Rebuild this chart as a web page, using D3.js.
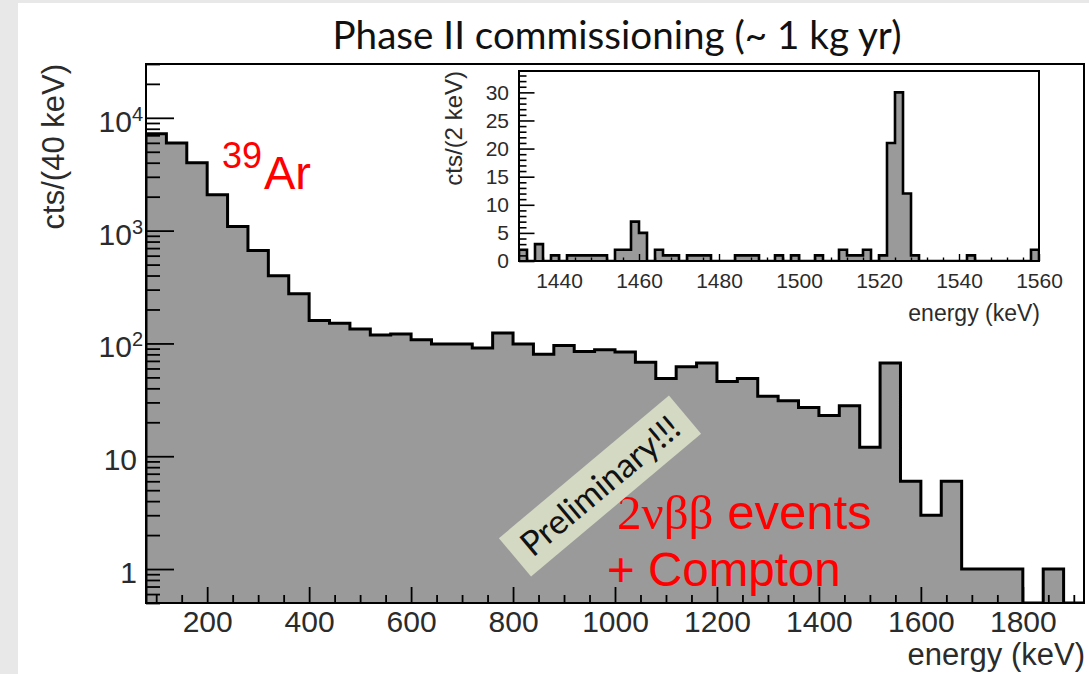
<!DOCTYPE html>
<html><head><meta charset="utf-8">
<script src="https://cdn.jsdelivr.net/npm/d3@7"></script>
<style>
html,body{margin:0;padding:0;background:#fff;}
svg{display:block;}
</style></head><body>
<svg id="c" width="1089" height="674"></svg>
<script>
// ---------- DATA ----------
const mainBinLow = [80,120,160,200,240,280,320,360,400,440,480,520,560,600,640,680,720,760,800,840,880,920,960,1000,1040,1080,1120,1160,1200,1240,1280,1320,1360,1400,1440,1480,1520,1560,1600,1640,1680,1720,1760,1800,1840,1880];
const mainCounts = [7240,5975,4000,2083,1089,665,399,275,160,151,134,119,121,108,99,99,91,124,99,80,96,85,88,84,68,49,62,67,46,49,34,31,27,23,28,12,67,6,3,6,1,1,1,0,1,0];
const mainBinWidth = 40;
const mainXTicks = [200,400,600,800,1000,1200,1400,1600,1800];
const mainYTicks = [1,10,100,1000,10000];
const mainYLabels = [["1",""],["10",""],["10","2"],["10","3"],["10","4"]];

const insetBinLow = [1430,1432,1434,1436,1438,1440,1442,1444,1446,1448,1450,1452,1454,1456,1458,1460,1462,1464,1466,1468,1470,1472,1474,1476,1478,1480,1482,1484,1486,1488,1490,1492,1494,1496,1498,1500,1502,1504,1506,1508,1510,1512,1514,1516,1518,1520,1522,1524,1526,1528,1530,1532,1534,1536,1538,1540,1542,1544,1546,1548,1550,1552,1554,1556,1558];
const insetCounts = [2,0,3,0,1,0,1,1,1,1,1,0,2,2,7,5,0,2,1,1,0,1,1,1,0,0,0,1,1,1,0,0,1,0,1,0,0,1,0,0,2,1,1,2,0,1,21,30,12,1,0,0,0,0,0,0,1,0,0,0,0,0,0,0,2];
const insetBinWidth = 2;
const insetXTicks = [1440,1460,1480,1500,1520,1540,1560];
const insetYTicks = [0,5,10,15,20,25,30];

// ---------- DRAW ----------
const svg = d3.select("#c");
svg.append("rect").attr("width",1089).attr("height",674).attr("fill","#fff");
svg.append("rect").attr("x",0).attr("y",0).attr("width",18).attr("height",674).attr("fill","#e8e8e8");
svg.append("rect").attr("x",0).attr("y",0).attr("width",1089).attr("height",3).attr("fill","#e8e8e8");

const AX_FONT = "'Liberation Sans', Arial, Helvetica, sans-serif";
const M = {l:146, r:1084, t:64, b:603};
const x = d3.scaleLinear().domain([80,1920]).range([M.l,M.r]);
const y = d3.scaleLog().domain([0.5,30000]).range([M.b,M.t]);

function histPoints(lows, counts, w, xs, ys, base){
  const pts = [[xs(lows[0]), base]];
  lows.forEach((lo,i)=>{
    const yy = counts[i] > 0 ? ys(counts[i]) : base;
    pts.push([xs(lo), yy], [xs(lo + w), yy]);
  });
  pts.push([xs(lows[lows.length-1] + w), base]);
  return pts;
}
const line = d3.line();

svg.append("clipPath").attr("id","mclip").append("rect")
  .attr("x",M.l).attr("y",M.t).attr("width",M.r-M.l).attr("height",M.b-M.t);
const mpts = histPoints(mainBinLow, mainCounts, mainBinWidth, x, y, M.b);
const gh = svg.append("g").attr("clip-path","url(#mclip)");
gh.append("path").attr("d", line(mpts) + "Z").attr("fill","#9a9a9a").attr("stroke","none");
gh.append("path").attr("d", line(mpts)).attr("fill","none").attr("stroke","#000")
  .attr("stroke-width",3).attr("stroke-linejoin","miter");

// x axis main
function styleAxis(g, w){
  g.select(".domain").remove();
  g.selectAll(".tick line").attr("stroke","#000").attr("stroke-width",w);
}
const gxm = svg.append("g").attr("transform",`translate(0,${M.b})`)
  .call(d3.axisBottom(x).tickValues(d3.range(100,1901,50).filter(v=>v%200!==0)).tickSize(-8).tickFormat(""));
styleAxis(gxm,1.8);
const gx = svg.append("g").attr("transform",`translate(0,${M.b})`)
  .call(d3.axisBottom(x).tickValues(mainXTicks).tickSize(-16).tickPadding(8).tickFormat(d3.format("d")));
styleAxis(gx,1.8);
gx.selectAll(".tick text").attr("font-family",AX_FONT).attr("font-size",30).attr("fill","#2b2b2b");

// y axis main
const yMinor = [];
[0.1,1,10,100,1000,10000].forEach(dec=>{ for(let k=2;k<=9;k++){ const v=dec*k; if(v>=0.5 && v<=30000) yMinor.push(v);} });
const gym = svg.append("g").attr("transform",`translate(${M.l},0)`)
  .call(d3.axisLeft(y).tickValues(yMinor).tickSize(-14).tickFormat(""));
styleAxis(gym,1.8);
const gy = svg.append("g").attr("transform",`translate(${M.l},0)`)
  .call(d3.axisLeft(y).tickValues(mainYTicks).tickSize(-28).tickFormat(""));
styleAxis(gy,1.8);
const yl = svg.append("g");
mainYTicks.forEach((v,i)=>{
  const lab = mainYLabels[i];
  const t = yl.append("text").attr("text-anchor","end")
    .attr("x", lab[1] ? 143 : 137).attr("y", y(v)+14)
    .attr("font-family",AX_FONT).attr("font-size",30).attr("fill","#2b2b2b");
  t.append("tspan").text(lab[0]);
  if(lab[1]) t.append("tspan").attr("font-size",20).attr("dy",-11).text(lab[1]);
});

// frame
svg.append("rect").attr("x",M.l).attr("y",M.t).attr("width",M.r-M.l).attr("height",M.b-M.t)
  .attr("fill","none").attr("stroke","#000").attr("stroke-width",2);

// axis titles
svg.append("text").attr("x",1085).attr("y",665).attr("text-anchor","end")
  .attr("font-family",AX_FONT).attr("font-size",31).attr("fill","#2b2b2b").text("energy (keV)");
svg.append("text").attr("transform",`translate(64,64) rotate(-90)`).attr("text-anchor","end")
  .attr("font-family",AX_FONT).attr("font-size",31).attr("fill","#2b2b2b").text("cts/(40 keV)");

// title
const title = svg.append("text").attr("x",617).attr("y",49).attr("text-anchor","middle")
  .attr("font-family","Lato, 'Open Sans', sans-serif").attr("font-size",30).attr("fill","#111")
  .text("Phase II commissioning (~ 1 kg yr)");
const tw = title.node().getComputedTextLength();
title.attr("font-size", 30*569/tw);

// ---------- INSET ----------
const I = {l:519, r:1039, t:71, b:261};
const xi = d3.scaleLinear().domain([1430,1560]).range([I.l,I.r]);
const yi = d3.scaleLinear().domain([0,33.8]).range([I.b,I.t]);
svg.append("rect").attr("x",I.l).attr("y",I.t).attr("width",I.r-I.l).attr("height",I.b-I.t).attr("fill","#fff");
svg.append("clipPath").attr("id","iclip").append("rect")
  .attr("x",I.l).attr("y",I.t).attr("width",I.r-I.l).attr("height",I.b-I.t);
const ipts = histPoints(insetBinLow, insetCounts, insetBinWidth, xi, yi, I.b);
const gi = svg.append("g").attr("clip-path","url(#iclip)");
gi.append("path").attr("d", line(ipts)+"Z").attr("fill","#9a9a9a");
gi.append("path").attr("d", line(ipts)).attr("fill","none").attr("stroke","#000").attr("stroke-width",2.6);

const gixm = svg.append("g").attr("transform",`translate(0,${I.b})`)
  .call(d3.axisBottom(xi).tickValues(d3.range(1432,1560,4).filter(v=>(v-1440)%20!==0)).tickSize(-3.5).tickFormat(""));
styleAxis(gixm,1.4);
const gix = svg.append("g").attr("transform",`translate(0,${I.b})`)
  .call(d3.axisBottom(xi).tickValues(insetXTicks).tickSize(-7).tickPadding(12).tickFormat(d3.format("d")));
styleAxis(gix,1.4);
gix.selectAll(".tick text").attr("font-family",AX_FONT).attr("font-size",21).attr("fill","#2b2b2b");

const giym = svg.append("g").attr("transform",`translate(${I.l},0)`)
  .call(d3.axisLeft(yi).tickValues(d3.range(1,34).filter(v=>v%5!==0)).tickSize(-7.5).tickFormat(""));
styleAxis(giym,1.6);
const giy = svg.append("g").attr("transform",`translate(${I.l},0)`)
  .call(d3.axisLeft(yi).tickValues(insetYTicks).tickSize(-15.5).tickPadding(10).tickFormat(d3.format("d")));
styleAxis(giy,1.6);
giy.selectAll(".tick text").attr("font-family",AX_FONT).attr("font-size",21).attr("fill","#2b2b2b");

svg.append("rect").attr("x",I.l).attr("y",I.t).attr("width",I.r-I.l).attr("height",I.b-I.t)
  .attr("fill","none").attr("stroke","#000").attr("stroke-width",2);
svg.append("text").attr("x",1040).attr("y",321).attr("text-anchor","end")
  .attr("font-family",AX_FONT).attr("font-size",23).attr("fill","#2b2b2b").text("energy (keV)");
svg.append("text").attr("transform",`translate(462,71) rotate(-90)`).attr("text-anchor","end")
  .attr("font-family",AX_FONT).attr("font-size",24).attr("fill","#2b2b2b").text("cts/(2 keV)");

// ---------- ANNOTATIONS ----------
const ar = svg.append("text").attr("font-family",AX_FONT).attr("fill","#ff0000");
ar.append("tspan").attr("x",222).attr("y",168).attr("font-size",36).text("39");
ar.append("tspan").attr("x",264).attr("y",189).attr("font-size",47).text("Ar");

const t2 = svg.append("text").attr("x",617).attr("y",529).attr("fill","#ff0000").attr("font-size",49);
t2.append("tspan").attr("font-family","'Liberation Serif','Times New Roman',serif").text("2νββ");
t2.append("tspan").attr("font-family",AX_FONT).text(" events");
svg.append("text").attr("x",607).attr("y",586).attr("fill","#ff0000").attr("font-size",47.5)
  .attr("font-family",AX_FONT).text("+ Compton");

const pg = svg.append("g").attr("transform","translate(600,486) rotate(-40)");
pg.append("rect").attr("x",-111).attr("y",-25).attr("width",222).attr("height",50).attr("fill","#d3d9c3");
const pt = pg.append("text").attr("text-anchor","middle").attr("dy","0.35em")
  .attr("font-family","Lato, 'Open Sans', sans-serif").attr("font-size",27).attr("fill","#111")
  .text("Preliminary!!!");
const pw = pt.node().getComputedTextLength();
pt.attr("font-size", 27*196/pw);
</script>
</body></html>
